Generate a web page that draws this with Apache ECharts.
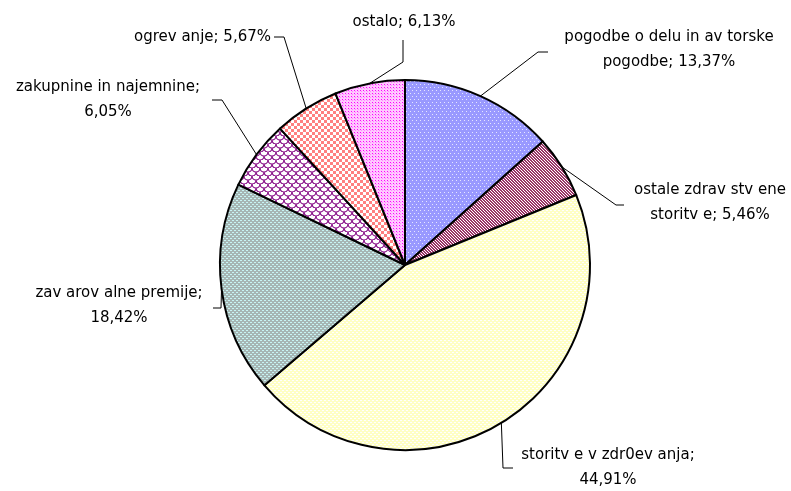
<!DOCTYPE html>
<html>
<head>
<meta charset="utf-8">
<script src="https://cdn.jsdelivr.net/npm/echarts@6/dist/echarts.min.js"></script>
<style>
  html, body { margin: 0; padding: 0; background: #fff; }
  #chart { width: 791px; height: 491px; }
</style>
</head>
<body>
<div id="chart"></div>
<script>
// podatki
const categories = [
  'pogodbe o delu in av torske\npogodbe',
  'ostale zdrav stv ene\nstoritv e',
  'storitv e v zdr0ev anja;\n',
  'zav arov alne premije;\n',
  'zakupnine in najemnine;\n',
  'ogrev anje',
  'ostalo'
]
const shares = [13.37, 5.46, 44.91, 18.42, 6.05, 5.67, 6.13]

// kje stojijo oznake (sredina besedila) in kako gre vodilna crta
const labelAt = [[669, 50], [710, 203], [608, 468], [119, 306], [108, 100], [271, 37], [404, 22]]
const labelAlign = ['center', 'center', 'center', 'center', 'center', 'right', 'center']
const leaderBends = [
  [[538, 52], [548, 52]],
  [[616, 205], [624, 205]],
  [[503, 468], [513, 468]],
  [[221, 308], [213, 308]],
  [[222, 100], [212, 100]],
  [[284, 37], [274, 37]],
  [[403, 62], [403, 40]]
]

// vzorci polnila (kot v Excelu)
function tile(w, h, draw) {
  const c = document.createElement('canvas')
  c.width = w; c.height = h
  const ctx = c.getContext('2d')
  draw(ctx)
  return { image: c, repeat: 'repeat' }
}
function px(ctx, col, list) {
  ctx.fillStyle = col
  list.forEach(p => ctx.fillRect(p[0], p[1], 1, 1))
}

const patterns = [
  tile(4, 6, ctx => { ctx.fillStyle = '#9999ff'; ctx.fillRect(0, 0, 4, 6); px(ctx, '#e6e6ff', [[0, 0], [2, 3]]) }),
  tile(3, 3, ctx => {
    ctx.fillStyle = '#ffffff'; ctx.fillRect(0, 0, 3, 3)
    const l = []
    for (let x = 0; x < 3; x++) for (let y = 0; y < 3; y++) if ((x - y + 3) % 3 !== 0) l.push([x, y])
    px(ctx, '#993366', l)
  }),
  tile(4, 4, ctx => { ctx.fillStyle = '#ffffc4'; ctx.fillRect(0, 0, 4, 4); px(ctx, '#ffffff', [[0, 0], [1, 0], [2, 2], [3, 2]]) }),
  tile(4, 4, ctx => { ctx.fillStyle = '#a6b6b4'; ctx.fillRect(0, 0, 4, 4); px(ctx, '#c8f4f4', [[0, 0], [1, 0], [2, 2], [3, 2]]) }),
  tile(8, 8, ctx => {
    ctx.fillStyle = '#ffffff'; ctx.fillRect(0, 0, 8, 8)
    ctx.strokeStyle = '#800080'; ctx.lineWidth = 1.1
    ;[[0, 0], [8, 0], [4, 4], [0, 8], [8, 8]].forEach(c => {
      ctx.beginPath(); ctx.arc(c[0], c[1], 4, 0, Math.PI); ctx.stroke()
    })
  }),
  tile(6, 6, ctx => {
    ctx.fillStyle = '#ffffff'; ctx.fillRect(0, 0, 6, 6)
    ctx.fillStyle = '#ff8080'; ctx.fillRect(0, 0, 3, 3); ctx.fillRect(3, 3, 3, 3)
  }),
  tile(3, 3, ctx => { ctx.fillStyle = '#ffc8ff'; ctx.fillRect(0, 0, 3, 3); px(ctx, '#ff00ff', [[0, 0]]); px(ctx, '#ff88ff', [[1, 1]]) })
]

const pieData = categories.map((name, i) => ({
  name: name,
  value: shares[i],
  itemStyle: { color: patterns[i] }
}))

const chart = echarts.init(document.getElementById('chart'))
chart.setOption({
  backgroundColor: '#ffffff',
  animation: false,
  series: [{
    type: 'pie',
    center: [405, 265],
    radius: 185,
    startAngle: 90,
    clockwise: true,
    data: pieData,
    itemStyle: { borderColor: '#000', borderWidth: 2 },
    label: {
      show: true,
      position: 'outside',
      overflow: 'none',
      color: '#000',
      fontFamily: 'DejaVu Sans, sans-serif',
      fontSize: 15,
      lineHeight: 25,
      formatter: p => {
        const v = p.value.toFixed(2).replace('.', ',') + '%'
        return p.name.endsWith('\n') ? p.name + v : p.name + '; ' + v
      }
    },
    labelLine: { show: true, lineStyle: { color: '#000', width: 1 } },
    labelLayout: params => {
      const i = params.dataIndex
      const start = params.labelLinePoints ? params.labelLinePoints[0] : null
      const res = {
        x: labelAt[i][0],
        y: labelAt[i][1],
        align: labelAlign[i],
        verticalAlign: 'middle'
      }
      if (start) res.labelLinePoints = [start].concat(leaderBends[i])
      return res
    }
  }]
})
</script>
</body>
</html>
